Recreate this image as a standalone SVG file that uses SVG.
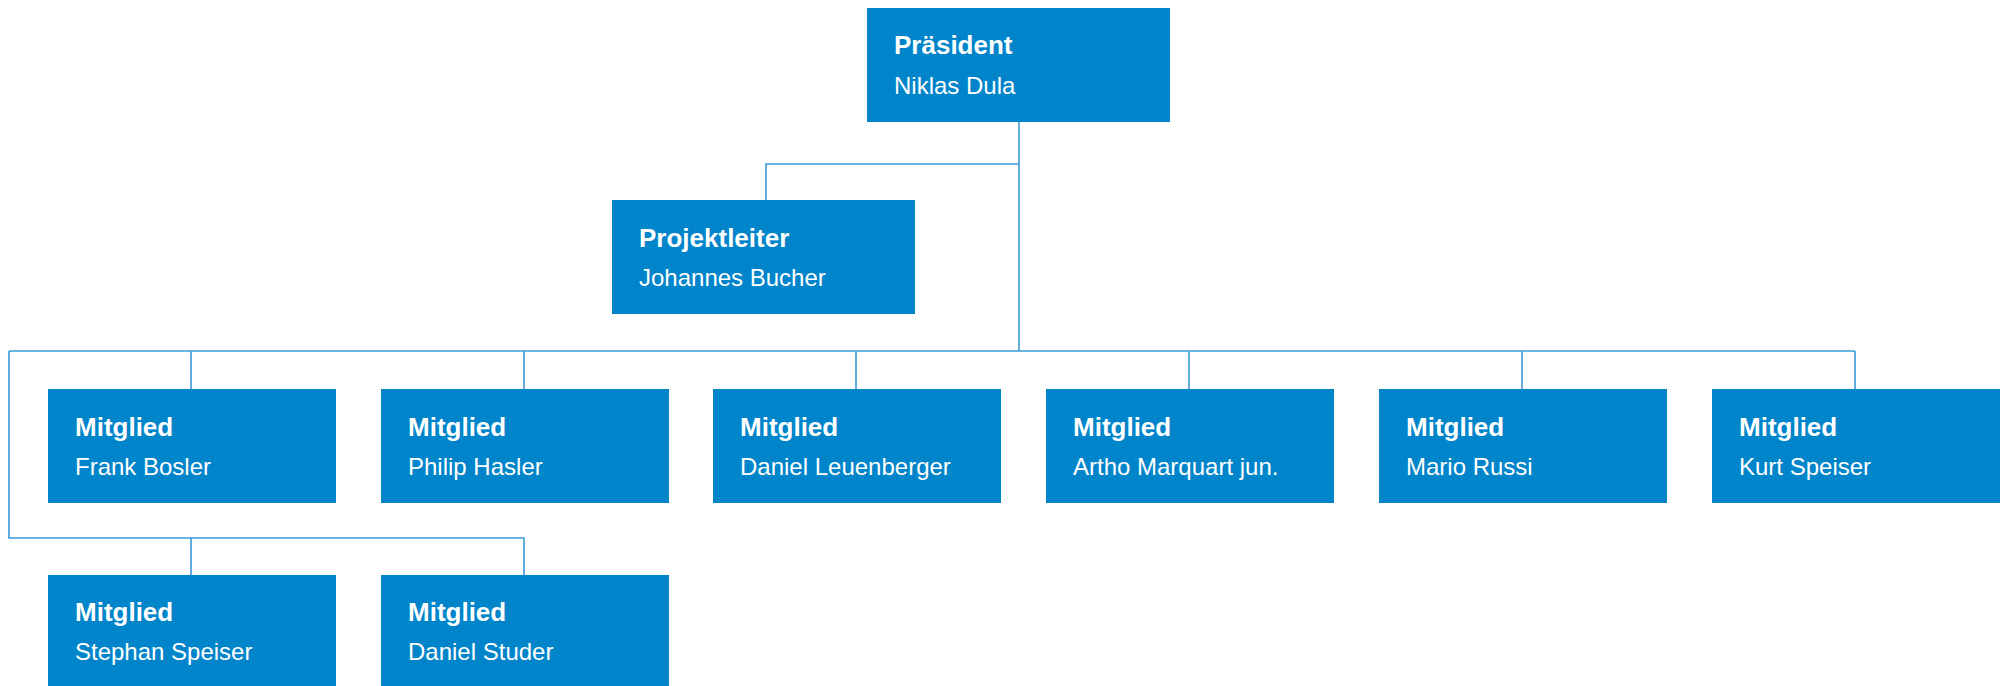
<svg xmlns="http://www.w3.org/2000/svg" width="2006" height="686" viewBox="0 0 2006 686">
<style>
.box{fill:#0084CA}
.t{fill:#fff;font-family:"Liberation Sans",Arial,sans-serif;font-weight:bold;font-size:26px}
.n{fill:#fff;font-family:"Liberation Sans",Arial,sans-serif;font-size:24px}
.c{fill:none;stroke:#3A9AD6;stroke-width:1.6}
</style>
<rect width="2006" height="686" fill="#fff"/>
<g id="connectors">
<path class="c" d="M1019 122 V351"/>
<path class="c" d="M1019 164 H766 V200"/>
<path class="c" d="M9 351 H1855"/>
<path class="c" d="M191 351 V389 M524 351 V389 M856 351 V389 M1189 351 V389 M1522 351 V389 M1855 351 V389"/>
<path class="c" d="M9 351 V538 H524 V575 M191 538 V575"/>
</g>
<g id="praesident"><rect class="box" x="867" y="8" width="303" height="114"/><text class="t" x="894" y="54">Präsident</text><text class="n" x="894" y="94">Niklas Dula</text></g>
<g id="projektleiter"><rect class="box" x="612" y="200" width="303" height="114"/><text class="t" x="639" y="246.5">Projektleiter</text><text class="n" x="639" y="286">Johannes Bucher</text></g>
<g id="m1"><rect class="box" x="48" y="389" width="288" height="114"/><text class="t" x="75" y="435.5">Mitglied</text><text class="n" x="75" y="475">Frank Bosler</text></g>
<g id="m2"><rect class="box" x="381" y="389" width="288" height="114"/><text class="t" x="408" y="435.5">Mitglied</text><text class="n" x="408" y="475">Philip Hasler</text></g>
<g id="m3"><rect class="box" x="713" y="389" width="288" height="114"/><text class="t" x="740" y="435.5">Mitglied</text><text class="n" x="740" y="475">Daniel Leuenberger</text></g>
<g id="m4"><rect class="box" x="1046" y="389" width="288" height="114"/><text class="t" x="1073" y="435.5">Mitglied</text><text class="n" x="1073" y="475">Artho Marquart jun.</text></g>
<g id="m5"><rect class="box" x="1379" y="389" width="288" height="114"/><text class="t" x="1406" y="435.5">Mitglied</text><text class="n" x="1406" y="475">Mario Russi</text></g>
<g id="m6"><rect class="box" x="1712" y="389" width="288" height="114"/><text class="t" x="1739" y="435.5">Mitglied</text><text class="n" x="1739" y="475">Kurt Speiser</text></g>
<g id="m7"><rect class="box" x="48" y="575" width="288" height="114"/><text class="t" x="75" y="621">Mitglied</text><text class="n" x="75" y="660">Stephan Speiser</text></g>
<g id="m8"><rect class="box" x="381" y="575" width="288" height="114"/><text class="t" x="408" y="621">Mitglied</text><text class="n" x="408" y="660">Daniel Studer</text></g>
</svg>
